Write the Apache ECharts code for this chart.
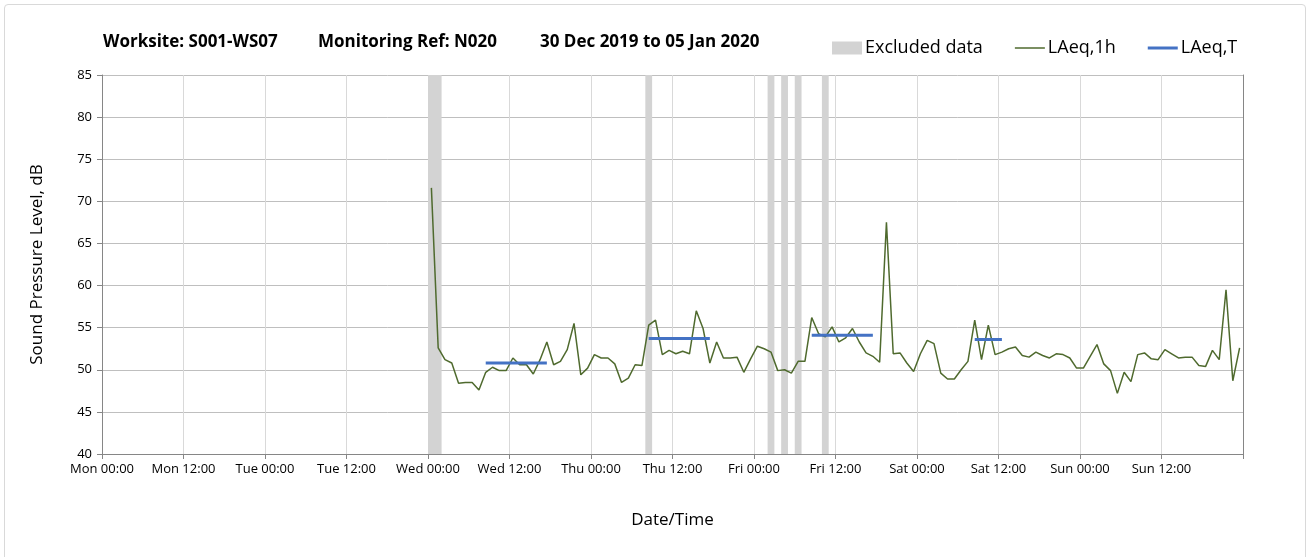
<!DOCTYPE html>
<html>
<head>
<meta charset="utf-8">
<script src="https://cdn.jsdelivr.net/npm/echarts@6/dist/echarts.min.js"></script>
<style>
  html, body { margin: 0; padding: 0; background: #fff; }
  #frame { position: absolute; left: 4px; top: 4px; width: 1302px; height: 570px; border: 1px solid #d9d9d9; border-radius: 4px; box-sizing: border-box; }
  #chart { position: absolute; left: 0; top: 0; width: 1314px; height: 557px; }
</style>
</head>
<body>
<div id="frame"></div>
<div id="chart"></div>
<script>
// Tick labels (every 12 hours from Mon 00:00)
const tickLabels = ['Mon 00:00','Mon 12:00','Tue 00:00','Tue 12:00','Wed 00:00','Wed 12:00','Thu 00:00','Thu 12:00','Fri 00:00','Fri 12:00','Sat 00:00','Sat 12:00','Sun 00:00','Sun 12:00'];

// LAeq,1h hourly values, first reading centred at hour 48.5 (Wed 00:30)
const firstHour = 48.5;
const laeq1h = [
  71.6, 52.6, 51.2, 50.8, 48.4, 48.5, 48.5, 47.6, 49.7, 50.3,
  49.9, 49.9, 51.4, 50.6, 50.6, 49.5, 51.2, 53.3, 50.6, 51.0,
  52.4, 55.5, 49.4, 50.2, 51.8, 51.4, 51.4, 50.7, 48.5, 49.0,
  50.6, 50.5, 55.3, 55.9, 51.8, 52.3, 51.9, 52.2, 51.9, 57.0,
  54.9, 50.8, 53.3, 51.4, 51.4, 51.5, 49.7, 51.3, 52.8, 52.5,
  52.1, 49.9, 50.0, 49.6, 51.0, 51.0, 56.2, 54.3, 53.9, 55.1,
  53.3, 53.8, 54.9, 53.3, 52.0, 51.6, 50.9, 67.5, 51.9, 52.0,
  50.8, 49.8, 51.9, 53.5, 53.1, 49.6, 48.9, 48.9, 50.0, 51.0,
  55.9, 51.2, 55.3, 51.8, 52.1, 52.5, 52.7, 51.7, 51.5, 52.1,
  51.7, 51.4, 51.9, 51.8, 51.4, 50.2, 50.2, 51.6, 53.0, 50.7,
  49.9, 47.2, 49.7, 48.6, 51.8, 52.0, 51.3, 51.2, 52.4, 51.9,
  51.4, 51.5, 51.5, 50.5, 50.4, 52.3, 51.2, 59.5, 48.7, 52.6
];

// LAeq,T periods (hours from Mon 00:00)
const tStart = [56.5, 80.5, 104.5, 128.5];
const tEnd   = [65.5, 89.5, 113.5, 132.5];
const tValue = [50.8, 53.7, 54.1, 53.6];

// Excluded data periods (hours from Mon 00:00)
const exStart = [48, 80, 98, 100, 102, 106];
const exEnd   = [50, 81, 99, 101, 103, 107];

const FONT = '"Open Sans", "Noto Sans", sans-serif';

const lineData = laeq1h.map((v, i) => [firstHour + i, v]);
const tData = [];
tStart.forEach((s, i) => {
  tData.push([s, tValue[i]], [tEnd[i], tValue[i]], [tEnd[i], '-']);
});
const exAreas = exStart.map((s, i) => [{ xAxis: s }, { xAxis: exEnd[i] }]);

const titleStyle = { fontFamily: FONT, fontSize: 17, fontWeight: 'bold', color: '#000' };

const chart = echarts.init(document.getElementById('chart'), null, { renderer: 'canvas' });
chart.setOption({
  animation: false,
  textStyle: { fontFamily: FONT },
  title: [
    { text: 'Worksite: S001-WS07', left: 98, top: 29, textStyle: titleStyle },
    { text: 'Monitoring Ref: N020', left: 313, top: 29, textStyle: titleStyle },
    { text: '30 Dec 2019 to 05 Jan 2020', left: 535, top: 29, textStyle: titleStyle }
  ],
  legend: {
    left: 827, top: 34,
    itemGap: 32, itemWidth: 30, itemHeight: 13,
    textStyle: { fontFamily: FONT, fontSize: 18, color: '#000', padding: [0, 0, 0, -2] },
    data: [
      { name: 'Excluded data', icon: 'rect', itemStyle: { color: '#d3d3d3' } },
      { name: 'LAeq,1h', icon: 'path://M0,0L30,0L30,1.5L0,1.5Z', itemStyle: { color: '#4f6a2e' } },
      { name: 'LAeq,T', icon: 'path://M0,0L30,0L30,3L0,3Z', itemStyle: { color: '#4472c4' } }
    ]
  },
  grid: { left: 102, top: 75, right: 71, bottom: 103, containLabel: false },
  xAxis: {
    type: 'value', min: 0, max: 168, interval: 12,
    name: 'Date/Time', nameLocation: 'middle', nameGap: 58,
    nameTextStyle: { fontFamily: FONT, fontSize: 17, color: '#000' },
    axisLine: { show: true, lineStyle: { color: '#868686', width: 1 } },
    axisTick: { show: true, length: 5, lineStyle: { color: '#868686' } },
    axisLabel: {
      fontFamily: FONT, fontSize: 13, color: '#000', margin: 9,
      formatter: (v) => { const k = Math.round(v / 12); return k < tickLabels.length ? tickLabels[k] : ''; }
    },
    splitLine: { show: true, lineStyle: { color: '#d9d9d9', width: 1 } }
  },
  yAxis: [
    {
      type: 'value', min: 40, max: 85, interval: 5,
      name: 'Sound Pressure Level, dB', nameLocation: 'middle', nameGap: 56, nameRotate: 90,
      nameTextStyle: { fontFamily: FONT, fontSize: 17, color: '#000' },
      axisLine: { show: true, lineStyle: { color: '#868686', width: 1 } },
      axisTick: { show: true, length: 5, lineStyle: { color: '#868686' } },
      axisLabel: { fontFamily: FONT, fontSize: 13, color: '#000', margin: 10 },
      splitLine: { show: true, lineStyle: { color: '#bfbfbf', width: 1 } }
    },
    {
      type: 'value', min: 40, max: 85, interval: 5, position: 'right',
      axisLine: { show: true, lineStyle: { color: '#868686', width: 1 } },
      axisTick: { show: false }, axisLabel: { show: false }, splitLine: { show: false }
    }
  ],
  series: [
    {
      name: 'Excluded data', type: 'line', data: [], symbol: 'none',
      itemStyle: { color: '#d3d3d3' }, lineStyle: { color: '#d3d3d3' },
      markArea: { silent: true, itemStyle: { color: '#d3d3d3', opacity: 1 }, data: exAreas },
      z: 1
    },
    {
      name: 'LAeq,1h', type: 'line', data: lineData, symbol: 'none',
      itemStyle: { color: '#4f6a2e' }, lineStyle: { color: '#4f6a2e', width: 1.5 }, z: 3
    },
    {
      name: 'LAeq,T', type: 'line', data: tData, symbol: 'none', connectNulls: false,
      itemStyle: { color: '#4472c4' }, lineStyle: { color: '#4472c4', width: 3 }, z: 4
    }
  ]
});
</script>
</body>
</html>
